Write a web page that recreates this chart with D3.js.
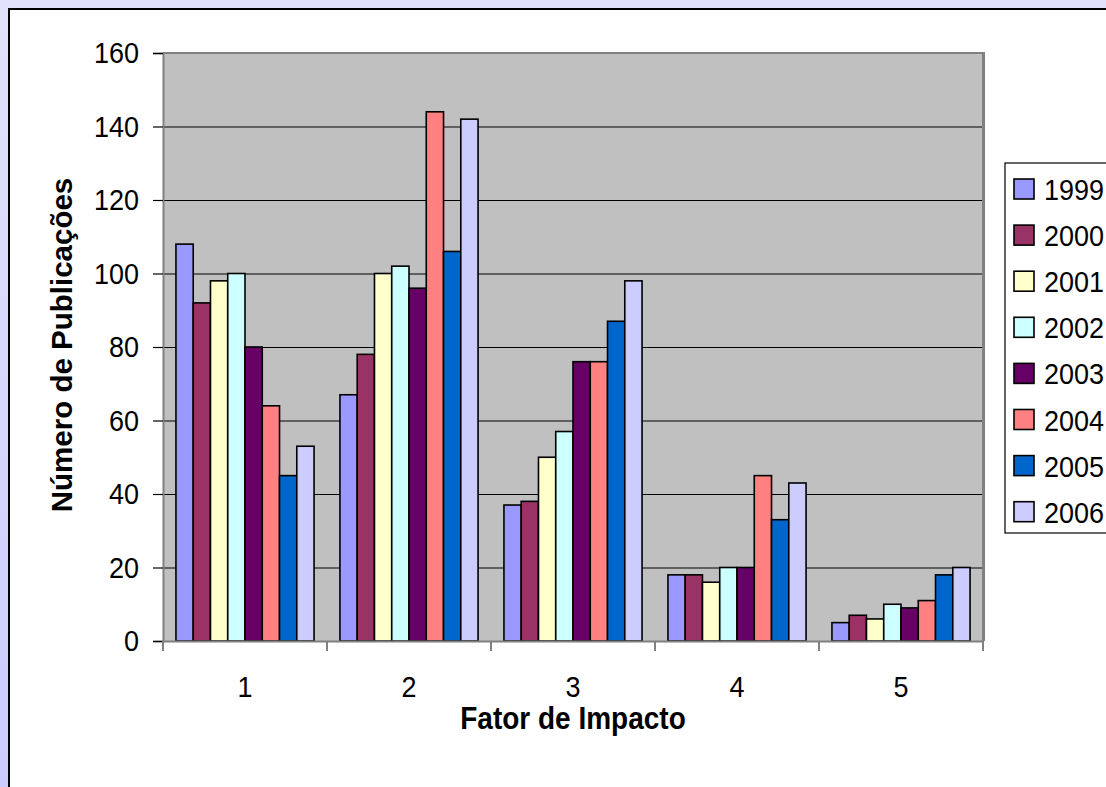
<!DOCTYPE html>
<html lang="pt">
<head>
<meta charset="UTF-8">
<title>Fator de Impacto</title>
<script src="https://cdn.jsdelivr.net/npm/d3@7/dist/d3.min.js"></script>
<style>
  * { box-sizing: border-box; padding: 0; margin: 0; border: 0; }
  body { width: 1106px; height: 787px; overflow: hidden; background: #fff; }
  text { font-family: "Liberation Sans", Arial, sans-serif; }
</style>
</head>
<body>
<svg width="1106" height="787"></svg>
<script>
var categories = ["1", "2", "3", "4", "5"];
var years = ["1999", "2000", "2001", "2002", "2003", "2004", "2005", "2006"];
var colors = ["#9999FF", "#993366", "#FFFFCC", "#CCFFFF", "#660066", "#FF8080", "#0066CC", "#CCCCFF"];
var values = {
    "1999": [108, 67, 37, 18, 5],
    "2000": [92, 78, 38, 18, 7],
    "2001": [98, 100, 50, 16, 6],
    "2002": [100, 102, 57, 20, 10],
    "2003": [80, 96, 76, 20, 9],
    "2004": [64, 144, 76, 45, 11],
    "2005": [45, 106, 87, 33, 18],
    "2006": [53, 142, 98, 43, 20]
};
var yTicks = [0, 20, 40, 60, 80, 100, 120, 140, 160];

var stretch = 1.12; // o texto original parece um pouco esticado na vertical

var svg = d3.select("svg");

// fundo lilas nas bordas
var defs = svg.append("defs");
var grad = defs.append("linearGradient").attr("id", "bg")
    .attr("x1", 0).attr("y1", 0).attr("x2", 0).attr("y2", 1);
grad.append("stop").attr("offset", "0%").attr("stop-color", "#e2e2fa");
grad.append("stop").attr("offset", "100%").attr("stop-color", "#cbcbff");
svg.append("rect").attr("width", 1106).attr("height", 787).attr("fill", "url(#bg)");

// area do grafico
svg.append("rect").attr("x", 9).attr("y", 9).attr("width", 1110).attr("height", 790)
    .attr("fill", "#fff").attr("stroke", "#000").attr("stroke-width", 2);

var plot = { left: 163, right: 983, top: 53, bottom: 641 };

var x0 = d3.scaleBand().domain(categories).range([plot.left, plot.right]);
var x1 = d3.scaleBand().domain(years).range([0, x0.bandwidth()]).paddingOuter(0.75);
var y = d3.scaleLinear().domain([0, 160]).range([plot.bottom, plot.top]);

svg.append("rect")
    .attr("x", plot.left).attr("y", plot.top)
    .attr("width", plot.right - plot.left).attr("height", plot.bottom - plot.top)
    .attr("fill", "#c0c0c0");

// linhas de grade
svg.append("g").selectAll("line")
    .data(yTicks.filter(function (d) { return d > 0 && d < 160; }))
    .enter().append("line")
    .attr("x1", plot.left).attr("x2", plot.right)
    .attr("y1", function (d) { return y(d) + 0.5; })
    .attr("y2", function (d) { return y(d) + 0.5; })
    .attr("stroke", "#000").attr("stroke-width", 1.2);

// borda da area de plotagem
svg.append("line").attr("x1", plot.left).attr("x2", plot.right + 2)
    .attr("y1", plot.top).attr("y2", plot.top).attr("stroke", "#808080").attr("stroke-width", 2);
svg.append("line").attr("x1", plot.right + 0.5).attr("x2", plot.right + 0.5)
    .attr("y1", plot.top).attr("y2", plot.bottom).attr("stroke", "#808080").attr("stroke-width", 3);

// barras
var groups = svg.append("g").selectAll("g")
    .data(categories)
    .enter().append("g")
    .attr("transform", function (d) { return "translate(" + x0(d) + ",0)"; });

groups.selectAll("rect")
    .data(function (c, ci) {
        return years.map(function (yr, i) { return { year: yr, value: values[yr][ci], color: colors[i] }; });
    })
    .enter().append("rect")
    .attr("x", function (d) { return x1(d.year); })
    .attr("y", function (d) { return y(d.value); })
    .attr("width", x1.bandwidth())
    .attr("height", function (d) { return y(0) - y(d.value); })
    .attr("fill", function (d) { return d.color; })
    .attr("stroke", "#000").attr("stroke-width", 1.6);

// eixo Y
var yAxis = d3.axisLeft(y).tickValues(yTicks).tickSize(10).tickPadding(14);
var gy = svg.append("g").attr("transform", "translate(" + plot.left + ",0)").call(yAxis);
gy.select(".domain").attr("stroke", "#808080").attr("stroke-width", 2);
gy.selectAll(".tick line").attr("stroke", "#000").attr("stroke-width", 1.2);
gy.selectAll(".tick text").attr("font-size", 27).attr("fill", "#000")
    .attr("font-family", "Liberation Sans, Arial, sans-serif")
    .attr("transform", "scale(1," + stretch + ")");

// eixo X
var xAxis = d3.axisBottom(x0).tickSize(0).tickPadding(34);
var gx = svg.append("g").attr("transform", "translate(0," + plot.bottom + ")").call(xAxis);
gx.select(".domain").attr("stroke", "#808080").attr("stroke-width", 2);
gx.selectAll(".tick text").attr("font-size", 27).attr("fill", "#000")
    .attr("font-family", "Liberation Sans, Arial, sans-serif")
    .attr("y", 0).attr("dy", 0)
    .attr("transform", "translate(0,56) scale(1," + stretch + ")");
var xBounds = categories.map(function (c) { return x0(c); }).concat([plot.right]);
gx.selectAll(".sep").data(xBounds).enter().append("line")
    .attr("x1", function (d) { return d; }).attr("x2", function (d) { return d; })
    .attr("y1", 0).attr("y2", 10)
    .attr("stroke", "#808080").attr("stroke-width", 2);

// titulos dos eixos
svg.append("text")
    .attr("transform", "translate(" + ((plot.left + plot.right) / 2) + ",729) scale(1," + stretch + ")")
    .attr("text-anchor", "middle").attr("font-size", 28).attr("font-weight", "bold")
    .text("Fator de Impacto");

svg.append("text")
    .attr("transform", "translate(72," + ((plot.top + plot.bottom) / 2 - 2) + ") rotate(-90)")
    .attr("text-anchor", "middle").attr("font-size", 29.5).attr("font-weight", "bold")
    .text("Número de Publicações");

// legenda
var legend = svg.append("g").attr("transform", "translate(1005,163)");
legend.append("rect").attr("x", 0).attr("y", 0).attr("width", 200).attr("height", 370)
    .attr("fill", "#fff").attr("stroke", "#000").attr("stroke-width", 1.2);
var items = legend.selectAll(".item").data(years).enter().append("g")
    .attr("transform", function (d, i) { return "translate(0," + (26 + i * 46.1) + ")"; });
items.append("rect").attr("x", 9).attr("y", -10).attr("width", 20).attr("height", 20)
    .attr("fill", function (d, i) { return colors[i]; })
    .attr("stroke", "#000").attr("stroke-width", 1.6);
items.append("text")
    .attr("transform", "translate(39,11) scale(1," + stretch + ")")
    .attr("font-size", 27).text(function (d) { return d; });
</script>
</body>
</html>
